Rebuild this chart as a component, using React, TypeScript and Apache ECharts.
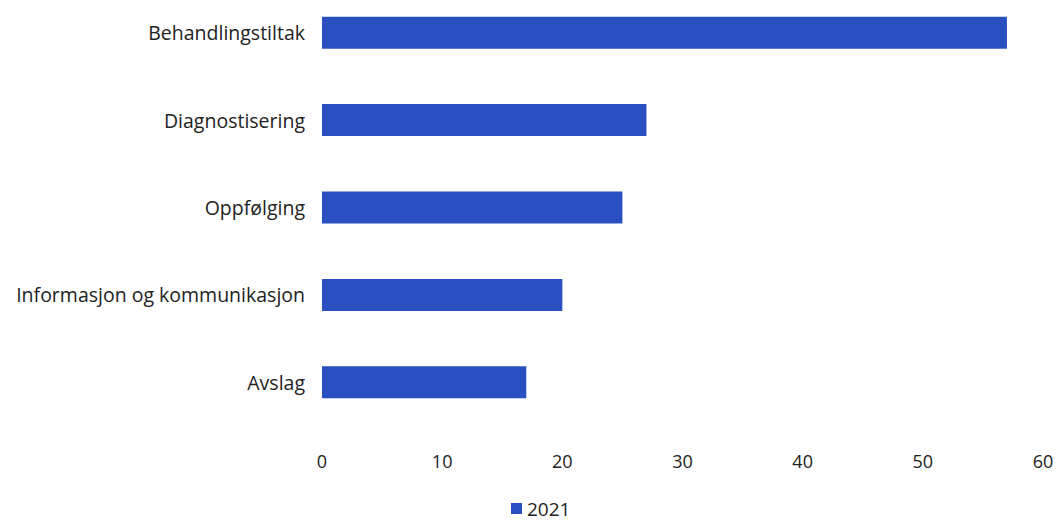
import React, { useEffect, useRef } from "react";
import * as echarts from "echarts";

const categories = ["Behandlingstiltak", "Diagnostisering", "Oppfølging", "Informasjon og kommunikasjon", "Avslag"];
const values2021 = [57, 27, 25, 20, 17];
const seriesName = "2021";

export default function App() {
  const ref = useRef<HTMLDivElement>(null);
  useEffect(() => {
    const chart = echarts.init(ref.current!, null, { renderer: "svg" });
    chart.setOption({
      animation: false,
      backgroundColor: "#ffffff",
      textStyle: { fontFamily: "Open Sans" },
      grid: { left: 322, right: 18, top: 0, bottom: 94 },
      legend: {
        left: 506,
        top: 505,
        itemWidth: 11,
        itemHeight: 11,
        itemGap: 5,
        icon: "rect",
        textStyle: { fontSize: 19, color: "#222" },
        data: [seriesName],
      },
      xAxis: {
        type: "value",
        min: 0,
        max: 60,
        interval: 10,
        axisLine: { show: false },
        axisTick: { show: false },
        splitLine: { show: false },
        axisLabel: { fontSize: 18, color: "#222", margin: 26 },
      },
      yAxis: {
        type: "category",
        data: categories,
        inverse: true,
        axisLine: { show: false },
        axisTick: { show: false },
        axisLabel: { fontSize: 19.5, color: "#222", margin: 17 },
      },
      series: [
        {
          name: seriesName,
          type: "bar",
          data: values2021,
          barWidth: 32,
          itemStyle: { color: "#2a4fc0" },
        },
      ],
    });
    return () => chart.dispose();
  }, []);
  return <div ref={ref} style={{ position: "fixed", left: 0, top: -11, width: 1061, height: 531 }} />;
}
